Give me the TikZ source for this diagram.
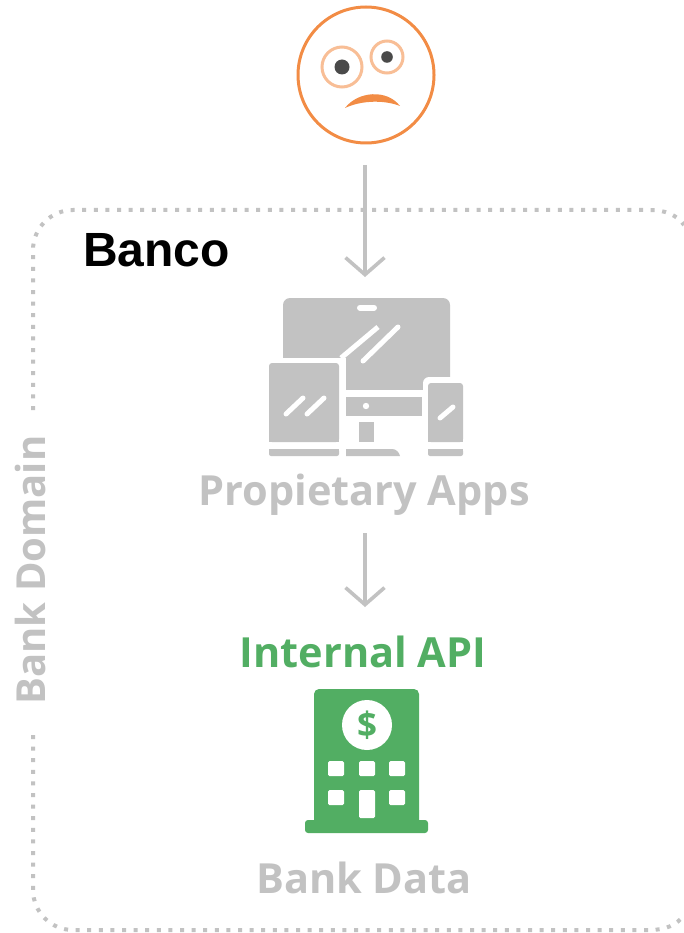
\documentclass[tikz,border=0pt]{standalone}
\usepackage{fontspec}
\setmainfont{Open Sans}
\newfontfamily\arialfont{Liberation Sans}
\usetikzlibrary{arrows.meta}
\definecolor{gr}{HTML}{C2C2C2}
\definecolor{grn}{HTML}{52AE63}
\definecolor{org}{HTML}{F28C45}
\definecolor{orgl}{HTML}{F8BE96}
\definecolor{pup}{HTML}{4A4A4A}
\tikzset{
  flow/.style={draw=gr,line width=3.6pt,-{Straight Barb[length=17pt,width=39pt,line width=3.6pt]}},
  lbl/.style={font=\bfseries\fontsize{41.5}{41.5}\selectfont,text=gr,inner sep=0pt},
  gline/.style={white,line width=5pt,line cap=round},
  dom/.style={draw=gr,line width=4pt,dash pattern=on 4pt off 7.6pt},
  win/.style={fill=white,rounded corners=1.5pt}
}
\begin{document}
\begin{tikzpicture}[x=1pt,y=-1pt]
\useasboundingbox (0,0) rectangle (684,933);
% domain outline
\draw[dom] (33,410) -- (33,250) .. controls (33,228) and (51,210) .. (73,210) -- (650,210) .. controls (665,210) and (677,215) .. (684,225);
\draw[dom] (33,735) -- (33,890) .. controls (33,912) and (51,930) .. (73,930) -- (650,930) .. controls (665,930) and (677,925) .. (684,915);
% face
\node[circle,draw=org,line width=3pt,minimum size=136pt,inner sep=0pt] (face) at (366,75) {};
\node[circle,draw=orgl,line width=3pt,minimum size=40pt,inner sep=0pt] (eyeL) at (342,67) {};
\node[circle,draw=orgl,line width=3pt,minimum size=32pt,inner sep=0pt] (eyeR) at (387,57) {};
\fill[pup] (342,67) circle (7.5);
\fill[pup] (387,57) circle (5.8);
\path[fill=org] (345,108) .. controls (358,91) and (387,89) .. (400,106) .. controls (385,100) and (362,100) .. (345,108) -- cycle;
% devices
\fill[gr,rounded corners=7pt] (283,298) rectangle (450,395);
\fill[white] (283,358) rectangle (346,400);
\fill[white] (340,390) rectangle (430,400);
\fill[white,rounded corners=6pt] (423,377) rectangle (470,400);
\fill[gr,rounded corners=3pt] (269,363) -- (339,363) -- (339,442) -- (269,442) -- cycle;
\fill[gr] (269,436) rectangle (339,442);
\fill[gr,rounded corners=2pt] (269,449) rectangle (339,456);
\fill[gr] (269,449) rectangle (339,452);
\fill[gr,rounded corners=3pt] (428,383) -- (463,383) -- (463,442) -- (428,442) -- cycle;
\fill[gr] (428,436) rectangle (463,442);
\fill[gr,rounded corners=2pt] (428,449) rectangle (463,456);
\fill[gr] (428,449) rectangle (463,452);
\fill[gr] (346,397) rectangle (422,416);
\fill[gr] (359,422) rectangle (374,442);
\fill[gr] (346,449) -- (392,449) .. controls (396,449) and (399,452) .. (400,456) -- (346,456) -- cycle;
\fill[white] (366,406) circle (3.2);
\draw[white,line width=6pt,line cap=round] (360,307.7) -- (374,307.7);
\draw[white,line width=5pt] (341,358) -- (378,327);
\draw[gline] (363,361) -- (398,327);
\draw[gline] (286,414) -- (303,398);
\draw[gline] (307,414) -- (324,398);
\draw[gline] (440,418) -- (453,407);
\node[lbl] (apps) at (364,495) {Propietary Apps};
\node[lbl,text=grn] (api) at (363,652) {Internal API};
% bank
\fill[grn,rounded corners=5pt] (314,689) rectangle (419,825);
\fill[grn,rounded corners=3pt] (305,820) rectangle (428,833);
\node[circle,fill=white,minimum size=50pt,inner sep=0pt] (coin) at (367,725) {};
\node[font=\bfseries\fontsize{35}{35}\selectfont,text=grn,inner sep=0pt] (dollar) at (367,725) {\$};
\fill[win] (328,761) rectangle (344,776);
\fill[win] (359,761) rectangle (375,776);
\fill[win] (389,761) rectangle (405,776);
\fill[win] (328,790) rectangle (344,805);
\fill[win] (359,790) rectangle (375,818);
\fill[win] (389,790) rectangle (405,805);
\node[lbl] (data) at (364,878) {Bank Data};
\node[lbl,rotate=90,font=\bfseries\fontsize{40}{40}\selectfont] (domain) at (30,570) {Bank Domain};
\node[font=\arialfont\bfseries\fontsize{48}{48}\selectfont,inner sep=0pt,anchor=west] (banco) at (83,250) {Banco};
% connectors
\coordinate (a1) at (365,165);
\coordinate (a2) at (365,277);
\coordinate (b1) at (365,533);
\coordinate (b2) at (365,607);
\draw[flow] (a1) -- (a2);
\draw[flow] (b1) -- (b2);
\end{tikzpicture}
\end{document}
